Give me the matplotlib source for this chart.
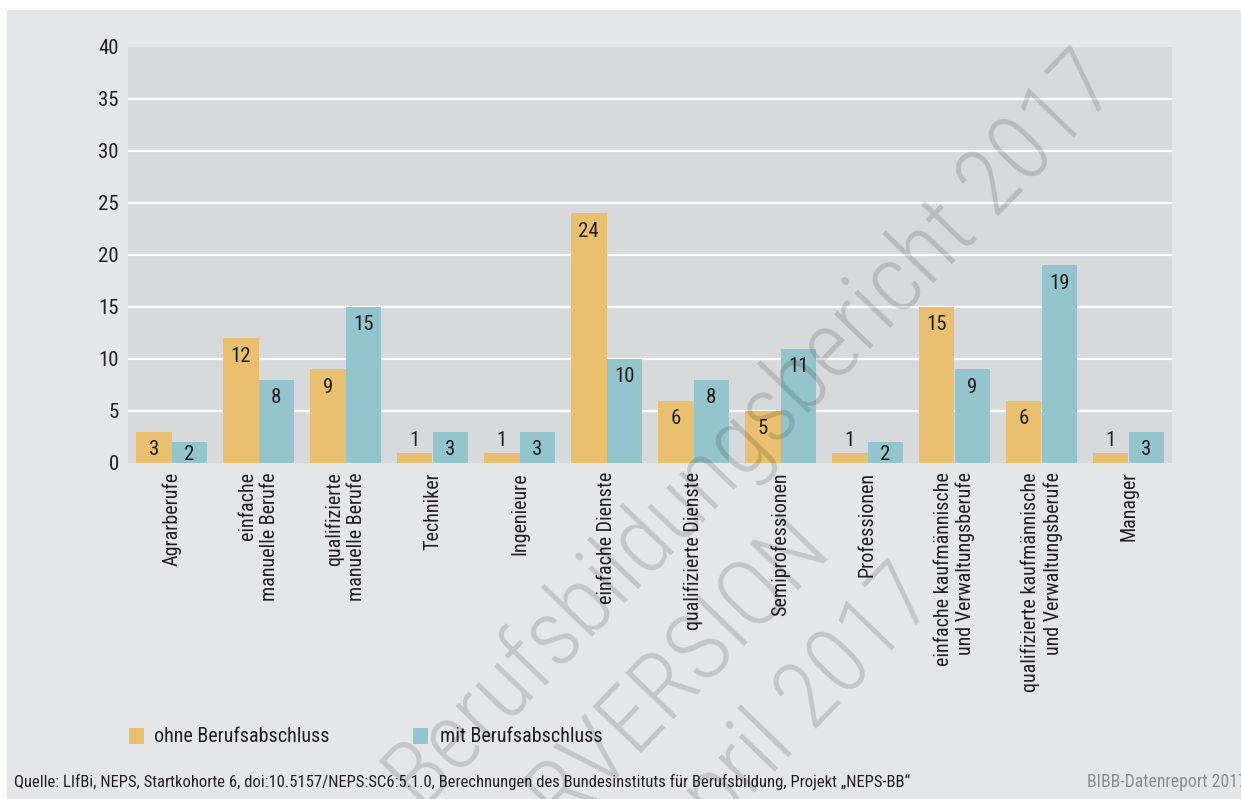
import matplotlib
matplotlib.use("Agg")
import matplotlib.pyplot as plt
from matplotlib import font_manager as fm
from matplotlib.patches import Rectangle
import numpy as np

# ---- data -----------------------------------------------------------------
categories = [
    "Agrarberufe",
    "einfache\nmanuelle Berufe",
    "qualifizierte\nmanuelle Berufe",
    "Techniker",
    "Ingenieure",
    "einfache Dienste",
    "qualifizierte Dienste",
    "Semiprofessionen",
    "Professionen",
    "einfache kaufmännische\nund Verwaltungsberufe",
    "qualifizierte kaufmännische\nund Verwaltungsberufe",
    "Manager",
]
ohne_abschluss = [3, 12, 9, 1, 1, 24, 6, 5, 1, 15, 6, 1]
mit_abschluss = [2, 8, 15, 3, 3, 10, 8, 11, 2, 9, 19, 3]
series_names = ["ohne Berufsabschluss", "mit Berufsabschluss"]
y_ticks = [0, 5, 10, 15, 20, 25, 30, 35, 40]

source_text = ("Quelle: LIfBi, NEPS, Startkohorte 6, doi:10.5157/NEPS:SC6:5.1.0, "
               "Berechnungen des Bundesinstituts für Berufsbildung, Projekt „NEPS-BB“")
report_text = "BIBB-Datenreport 2017"
watermark_lines = ["zum Berufsbildungsbericht 2017", "VORVERSION", "April 2017"]

# ---- fonts: prefer a narrow sans ----------------------------------------------
installed = [(f.name, f.stretch) for f in fm.fontManager.ttflist]
names = {n for n, _ in installed}
stretch = "normal"
if "Roboto Condensed" in names:
    family = "Roboto Condensed"
elif "Liberation Sans Narrow" in names:
    family = "Liberation Sans Narrow"
elif any(n == "DejaVu Sans" and s == "condensed" for n, s in installed):
    family, stretch = "DejaVu Sans", "condensed"
else:
    family = "DejaVu Sans"
FONT = [family, "DejaVu Sans"]
plt.rcParams["font.family"] = FONT
plt.rcParams["font.stretch"] = stretch

TEXT = "#231f20"
PANEL = "#e5e6e8"
PLOT_BG = "#d8d9db"
C_OHNE = "#e8c06f"
C_MIT = "#95c5cc"
FS = 14.5

W, H = 1241, 799
fig = plt.figure(figsize=(W / 100, H / 100), dpi=100, facecolor="white")


def fx(px):
    return px / W


def fy(py):
    return 1 - py / H


# grey panel behind everything
fig.patches.append(Rectangle((fx(7), 0), 1 - fx(7), fy(10), transform=fig.transFigure,
                             facecolor=PANEL, edgecolor="none", zorder=-5))

ax = fig.add_axes([fx(128), fy(463), fx(1172) - fx(128), fy(47) - fy(463)])
ax.set_zorder(1)
ax.set_facecolor(PLOT_BG)
ax.set_xlim(-0.5, len(categories) - 0.5)
ax.set_ylim(0, 40)

x = np.arange(len(categories))
bw = 0.408
ax.bar(x - bw / 2, ohne_abschluss, bw, color=C_OHNE, zorder=2)
ax.bar(x + bw / 2, mit_abschluss, bw, color=C_MIT, zorder=2)

ax.set_yticks(y_ticks)
ax.yaxis.grid(True, color="white", lw=1.6, zorder=1)
ax.set_axisbelow(True)
gl = ax.get_ygridlines()
gl[0].set_visible(False)
gl[-1].set_visible(False)

for s in ax.spines.values():
    s.set_visible(False)

ax.tick_params(axis="y", length=0, pad=6.5, labelsize=FS + 0.5, labelcolor=TEXT)
ax.tick_params(axis="x", length=0, pad=6.5, labelsize=FS, labelcolor=TEXT)
ax.set_xticks(x)
ax.set_xticklabels(categories, rotation=90, ha="center", va="top",
                   multialignment="right", linespacing=1.22)

# value labels: inside the bar top, or just above when the bar is too short
scale = ax.transData.transform((0, 1))[1] - ax.transData.transform((0, 0))[1]
for xs, vals in ((x - bw / 2, ohne_abschluss), (x + bw / 2, mit_abschluss)):
    for xi, v in zip(xs, vals):
        h = v * scale
        if h < 14:
            off = 12
        else:
            off = -min(18, h - 8)
        ax.annotate(str(v), (xi, v), xytext=(0, off), textcoords="offset pixels",
                    ha="center", va="center", fontsize=FS + 0.5, color=TEXT, zorder=3)

# legend
for (px, col, name, tx) in ((129, C_OHNE, series_names[0], 154),
                            (413, C_MIT, series_names[1], 440)):
    fig.patches.append(Rectangle((fx(px), fy(744)), fx(15), 16 / H, transform=fig.transFigure,
                                 facecolor=col, edgecolor="none", zorder=2))
    fig.text(fx(tx), fy(736), name, ha="left", va="center", fontsize=FS, color=TEXT)

# footer
fig.text(fx(14), fy(782), source_text, ha="left", va="center", fontsize=12, color=TEXT)
fig.text(fx(1087), fy(782), report_text, ha="left", va="center", fontsize=12.8,
         color="#8c8d8f")

# diagonal watermark
for (ex, ey), line in zip(((1122, 88), (834, 552), (940, 600)), watermark_lines):
    fig.text(fx(ex), fy(ey), line, rotation=46, rotation_mode="anchor",
             ha="right", va="baseline", fontsize=68, fontweight="light",
             color="black", alpha=0.14, zorder=5)

fig.savefig("out.png", dpi=100, facecolor="white")
